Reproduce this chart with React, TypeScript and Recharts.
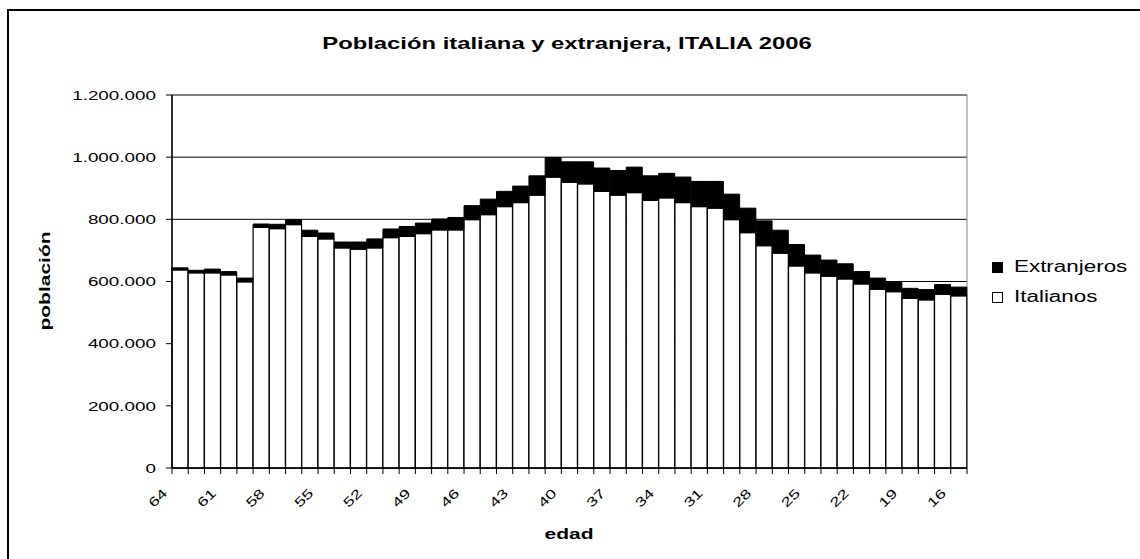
import React from 'react';
import {
  BarChart,
  Bar,
  XAxis,
  YAxis,
  CartesianGrid,
  Legend,
  ReferenceArea,
} from 'recharts';

// edad (age), from 64 down to 16
const ages = [
  64, 63, 62, 61, 60, 59, 58, 57, 56, 55, 54, 53, 52, 51, 50, 49, 48, 47, 46, 45,
  44, 43, 42, 41, 40, 39, 38, 37, 36, 35, 34, 33, 32, 31, 30, 29, 28, 27, 26, 25,
  24, 23, 22, 21, 20, 19, 18, 17, 16,
];

const italianos = [
  637000, 628000, 628000, 621000, 599000, 774000, 770000, 783000, 745000, 737000,
  708000, 704000, 708000, 741000, 745000, 754000, 766000, 766000, 799000, 815000,
  841000, 854000, 878000, 936000, 919000, 914000, 890000, 878000, 886000, 861000,
  869000, 854000, 841000, 836000, 799000, 757000, 715000, 691000, 650000, 628000,
  617000, 608000, 592000, 575000, 567000, 546000, 541000, 559000, 554000,
];

const extranjeros = [
  7000, 8000, 12000, 11000, 12000, 11000, 14000, 16000, 20000, 19000,
  19000, 23000, 29000, 28000, 32000, 34000, 35000, 40000, 45000, 50000,
  49000, 53000, 62000, 63000, 66000, 71000, 75000, 79000, 82000, 79000,
  79000, 82000, 81000, 86000, 82000, 79000, 80000, 74000, 69000, 57000,
  52000, 49000, 40000, 36000, 30000, 32000, 33000, 31000, 28000,
];

const yTicks = [0, 200000, 400000, 600000, 800000, 1000000, 1200000];

const data = ages.map((edad, i) => ({
  edad: String(edad),
  Italianos: italianos[i],
  Extranjeros: extranjeros[i],
}));

const W = 1140;
const H = 559;
const PLOT_LEFT = 172;
const PLOT_RIGHT = 967;
const PLOT_TOP = 95;
const PLOT_BOTTOM = 468;
const Y_AXIS_W = 90;
const X_AXIS_H = 40;
const BAND = (PLOT_RIGHT - PLOT_LEFT) / ages.length;

const FONT = '"Liberation Sans", Arial, sans-serif';
// the source text is drawn wide, so every label is stretched along its baseline
const WIDE = 1.4;

const fmt = (v: number) => String(v).replace(/\B(?=(\d{3})+(?!\d))/g, '.');

const AgeTick = (props: any) => {
  const { x, y, payload, index } = props;
  const left = x - BAND / 2;
  const isLast = index === ages.length - 1;
  const tx = x - 12;
  const ty = y + 18;
  return (
    <g>
      <line x1={left} y1={y - 8} x2={left} y2={y - 2} stroke="#000" />
      {isLast && <line x1={x + BAND / 2} y1={y - 8} x2={x + BAND / 2} y2={y - 2} stroke="#000" />}
      {index % 3 === 0 && (
        <text
          x={0}
          y={0}
          textAnchor="end"
          transform={`translate(${tx}, ${ty}) rotate(-45) scale(${WIDE}, 1)`}
          fontSize={13}
          fontFamily={FONT}
          fill="#000"
        >
          {payload.value}
        </text>
      )}
    </g>
  );
};

const ValueTick = (props: any) => {
  const { x, y, payload } = props;
  return (
    <text
      x={0}
      y={0}
      dy="0.36em"
      textAnchor="end"
      transform={`translate(${x - 8}, ${y}) scale(1.45, 1)`}
      fontSize={13}
      fontFamily={FONT}
      fill="#000"
    >
      {fmt(payload.value)}
    </text>
  );
};

const LegendBox = (props: any) => {
  const items = props.payload || [];
  return (
    <div style={{ fontFamily: FONT, fontSize: 16, color: '#000' }}>
      {items.map((it: any) => (
        <div key={it.value} style={{ display: 'flex', alignItems: 'center', height: 30 }}>
          <span
            style={{
              display: 'inline-block',
              boxSizing: 'border-box',
              width: 11,
              height: 11,
              marginRight: 11,
              background: it.value === 'Extranjeros' ? '#000' : '#fff',
              border: '1px solid #000',
            }}
          />
          <span style={{ display: 'inline-block', transform: `scaleX(${WIDE})`, transformOrigin: 'left center' }}>
            {it.value}
          </span>
        </div>
      ))}
    </div>
  );
};

export default function App() {
  return (
    <div
      style={{
        position: 'absolute',
        left: 0,
        top: 0,
        width: W,
        height: H,
        overflow: 'hidden',
        background: '#fff',
        fontFamily: FONT,
      }}
    >
      {/* chart frame, cut at the right and bottom */}
      <div
        style={{
          position: 'absolute',
          left: 7,
          top: 9,
          width: 1200,
          height: 600,
          borderLeft: '2px solid #000',
          borderTop: '2px solid #000',
        }}
      />

      <div
        style={{
          position: 'absolute',
          left: 567,
          top: 44,
          transform: `translate(-50%, -50%) scaleX(${WIDE})`,
          fontWeight: 'bold',
          fontSize: 17,
          whiteSpace: 'nowrap',
        }}
      >
        Población italiana y extranjera, ITALIA 2006
      </div>

      <div
        style={{
          position: 'absolute',
          left: 44,
          top: 281,
          transform: `translate(-50%, -50%) rotate(-90deg) scaleX(${WIDE})`,
          fontWeight: 'bold',
          fontSize: 15,
          whiteSpace: 'nowrap',
        }}
      >
        población
      </div>

      <div
        style={{
          position: 'absolute',
          left: 569,
          top: 533,
          transform: `translate(-50%, -50%) scaleX(${WIDE})`,
          fontWeight: 'bold',
          fontSize: 15,
        }}
      >
        edad
      </div>

      <div style={{ position: 'absolute', left: 0, top: 0 }}>
        <BarChart
          width={W}
          height={H}
          data={data}
          barCategoryGap={0}
          barGap={0}
          margin={{
            top: PLOT_TOP,
            left: PLOT_LEFT - Y_AXIS_W,
            right: W - PLOT_RIGHT,
            bottom: H - PLOT_BOTTOM - X_AXIS_H,
          }}
        >
          <CartesianGrid vertical={false} stroke="#000" />
          <XAxis
            dataKey="edad"
            interval={0}
            height={X_AXIS_H}
            tick={<AgeTick />}
            tickLine={false}
            axisLine={{ stroke: '#000', strokeWidth: 1.5 }}
          />
          <YAxis
            width={Y_AXIS_W}
            domain={[0, 1200000]}
            ticks={yTicks}
            tick={<ValueTick />}
            tickSize={6}
            tickLine={{ stroke: '#000' }}
            axisLine={{ stroke: '#000', strokeWidth: 1.5 }}
          />
          <ReferenceArea y1={0} y2={1200000} fill="none" stroke="#808080" ifOverflow="visible" />
          <Bar
            dataKey="Italianos"
            stackId="a"
            fill="#fff"
            stroke="#000"
            strokeWidth={1.2}
            isAnimationActive={false}
          />
          <Bar
            dataKey="Extranjeros"
            stackId="a"
            fill="#000"
            stroke="#000"
            strokeWidth={1}
            isAnimationActive={false}
          />
          <Legend
            layout="vertical"
            align="center"
            verticalAlign="middle"
            wrapperStyle={{ left: 992, top: 252, width: 148 }}
            content={<LegendBox />}
          />
        </BarChart>
      </div>
    </div>
  );
}
